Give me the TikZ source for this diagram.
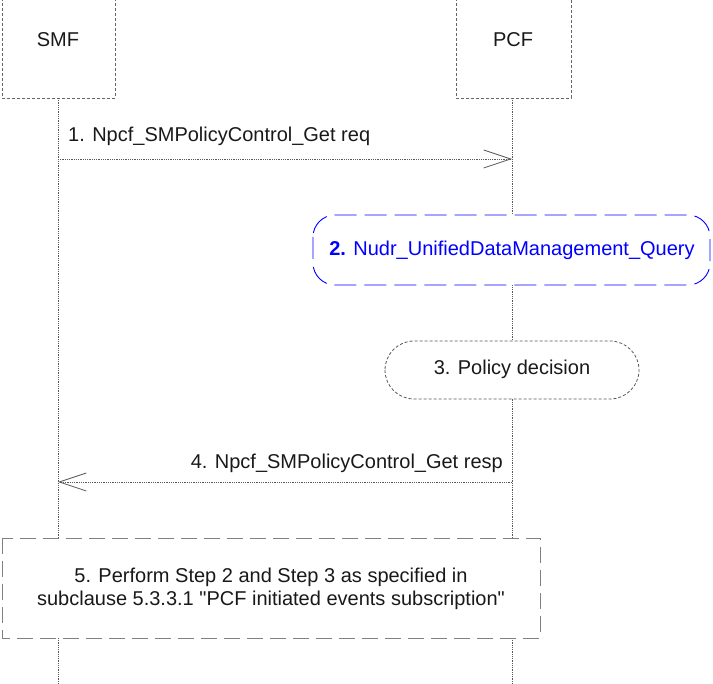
\documentclass[tikz,border=0pt]{standalone}
\usepackage{fontspec}
\setmainfont{Liberation Sans}
\newfontfamily\plainqfont{Liberation Sans}
\newcommand{\sq}{{\plainqfont\symbol{34}}}
\usetikzlibrary{arrows.meta}
\begin{document}
\begin{tikzpicture}[x=1pt,y=-1pt,
  every node/.style={font=\fontsize{20}{23}\selectfont, text=black!90, inner sep=0pt},
  entbox/.style={draw=black!60, densely dashed, line width=0.8pt},
  life/.style={draw=black!65, densely dotted, line width=0.8pt},
  msg/.style={draw=black!65, densely dotted, line width=0.8pt, -{Straight Barb[length=27pt,width=18pt,line width=0.8pt]}},
  bluebox/.style={draw=blue, dash pattern=on 22pt off 8pt, line width=0.9pt, rounded corners=22pt},
  procbox/.style={draw=black!65, densely dashed, line width=0.8pt, rounded corners=29pt},
  notebox/.style={draw=black!50, dash pattern=on 16pt off 7pt, line width=0.8pt}
]
\useasboundingbox (0,0) rectangle (713,684);
% entity boxes
\draw[entbox] (2,-2) rectangle (115,98);
\draw[entbox] (456,-2) rectangle (571,98);
\node (smf) at (58,40) {SMF};
\node (pcf) at (513,40) {PCF};
\coordinate (smftop) at (58,98);
\coordinate (pcftop) at (512,98);
\coordinate (smfbot) at (58,684);
\coordinate (pcfbot) at (512,684);
\draw[life] (smftop) -- (smfbot);
\draw[life] (pcftop) -- (pcfbot);
% message 1
\coordinate (m1s) at (58,159);
\coordinate (m1e) at (512,159);
\draw[msg] (m1s) -- (m1e);
\node[anchor=west] (l1) at (68,136) {1. Npcf\_SMPolicyControl\_Get req};
% box 2
\draw[bluebox, fill=white] (313,215) rectangle (710,285);
\node[text=blue] (b2) at (512,250) {\textbf{2.} Nudr\_UnifiedDataManagement\_Query};
% box 3
\draw[procbox, fill=white] (385,341) rectangle (639,399);
\node (b3) at (512,369) {3. Policy decision};
% message 4
\coordinate (m4s) at (512,482);
\coordinate (m4e) at (58,482);
\draw[msg] (m4s) -- (m4e);
\node[anchor=east] (l4) at (503,463) {4. Npcf\_SMPolicyControl\_Get resp};
% box 5
\draw[notebox, fill=white] (2,538) rectangle (540,638);
\node[align=center] (b5) at (271,589) {5. Perform Step 2 and Step 3 as specified in\\subclause 5.3.3.1 \sq PCF initiated events subscription\sq};
\end{tikzpicture}
\end{document}
